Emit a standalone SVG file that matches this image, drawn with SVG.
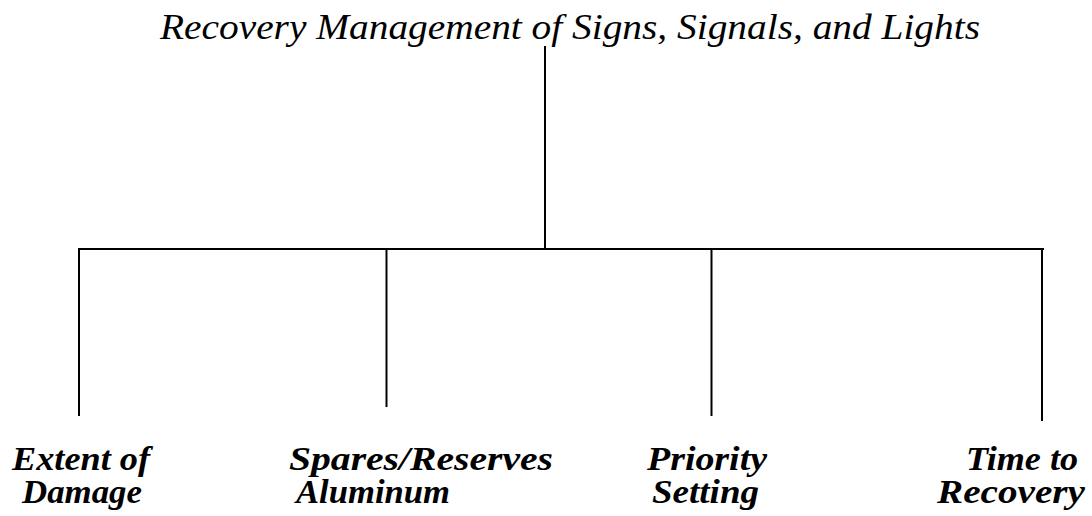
<svg xmlns="http://www.w3.org/2000/svg" width="1092" height="516" viewBox="0 0 1092 516">
<style>
.ln{stroke:#000;stroke-width:2;fill:none}
</style>
<rect width="1092" height="516" fill="#fff"/>
<g id="root">
<text x="160" y="39" font-family="Liberation Serif" font-style="italic" font-size="36" textLength="820" lengthAdjust="spacingAndGlyphs">Recovery Management of Signs, Signals, and Lights</text>
</g>
<g id="connectors">
<line class="ln" x1="545" y1="46" x2="545" y2="248"/>
<line class="ln" x1="78" y1="249" x2="1044" y2="249"/>
<line class="ln" x1="79" y1="250" x2="79" y2="416"/>
<line class="ln" x1="386.5" y1="250" x2="386.5" y2="407"/>
<line class="ln" x1="711.5" y1="250" x2="711.5" y2="416"/>
<line class="ln" x1="1042" y1="250" x2="1042" y2="421"/>
</g>
<g id="n1">
<text x="12" y="470" font-family="Liberation Serif" font-style="italic" font-weight="bold" font-size="33" textLength="138" lengthAdjust="spacingAndGlyphs">Extent of</text>
<text x="22" y="503" font-family="Liberation Serif" font-style="italic" font-weight="bold" font-size="33" textLength="120" lengthAdjust="spacingAndGlyphs">Damage</text>
</g>
<g id="n2">
<text x="289" y="470" font-family="Liberation Serif" font-style="italic" font-weight="bold" font-size="33" textLength="264" lengthAdjust="spacingAndGlyphs">Spares/Reserves</text>
<text x="296" y="503" font-family="Liberation Serif" font-style="italic" font-weight="bold" font-size="33" textLength="154" lengthAdjust="spacingAndGlyphs">Aluminum</text>
</g>
<g id="n3">
<text x="647" y="470" font-family="Liberation Serif" font-style="italic" font-weight="bold" font-size="33" textLength="120" lengthAdjust="spacingAndGlyphs">Priority</text>
<text x="652" y="503" font-family="Liberation Serif" font-style="italic" font-weight="bold" font-size="33" textLength="107" lengthAdjust="spacingAndGlyphs">Setting</text>
</g>
<g id="n4">
<text x="966" y="470" font-family="Liberation Serif" font-style="italic" font-weight="bold" font-size="33" textLength="112" lengthAdjust="spacingAndGlyphs">Time to</text>
<text x="937" y="503" font-family="Liberation Serif" font-style="italic" font-weight="bold" font-size="33" textLength="148" lengthAdjust="spacingAndGlyphs">Recovery</text>
</g>
</svg>
